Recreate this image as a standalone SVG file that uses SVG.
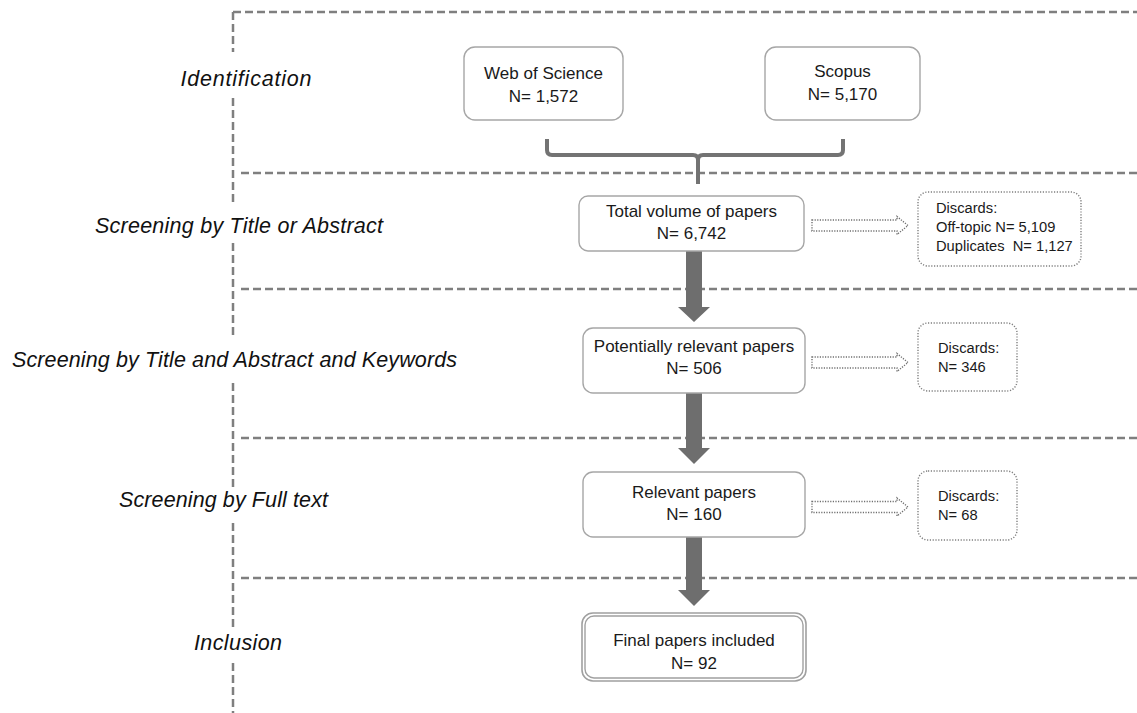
<svg xmlns="http://www.w3.org/2000/svg" width="1137" height="713" viewBox="0 0 1137 713">
<style>
.bg{fill:#ffffff}
.dash{stroke:#7f7f7f;stroke-width:2.5;stroke-dasharray:8 4;fill:none}
.box{fill:#ffffff;stroke:#a6a6a6;stroke-width:1.4}
.dbox{fill:#ffffff;stroke:#7f7f7f;stroke-width:1.4;stroke-dasharray:1.2 1.6}
.t{font-family:"Liberation Sans",Arial,sans-serif;font-size:17px;fill:#1a1a1a;text-anchor:middle}
.d{font-family:"Liberation Sans",Arial,sans-serif;font-size:14.7px;fill:#1a1a1a}
.lab{font-family:"Liberation Sans",Arial,sans-serif;font-style:italic;font-size:21.5px;fill:#111;text-anchor:middle}
.big{fill:#6e6e6e}
.hollow{fill:#ffffff;stroke:#6f6f6f;stroke-width:1.4;stroke-dasharray:1.2 1.4}
.brace{fill:none;stroke:#737373;stroke-width:4}
</style>
<rect class="bg" x="0" y="0" width="1137" height="713"/>
<g id="frame">
<line class="dash" x1="233" y1="12" x2="1137" y2="12"/>
<line class="dash" x1="233" y1="12" x2="233" y2="52"/>
<line class="dash" x1="233" y1="98" x2="233" y2="205"/>
<line class="dash" x1="233" y1="243" x2="233" y2="335"/>
<line class="dash" x1="233" y1="383" x2="233" y2="487"/>
<line class="dash" x1="233" y1="523" x2="233" y2="627"/>
<line class="dash" x1="233" y1="663" x2="233" y2="713"/>
<line class="dash" x1="241" y1="173" x2="1137" y2="173"/>
<line class="dash" x1="241" y1="289" x2="1137" y2="289"/>
<line class="dash" x1="241" y1="438" x2="1137" y2="438"/>
<line class="dash" x1="241" y1="578" x2="1137" y2="578"/>
</g>
<g id="labels">
<text class="lab" x="246" y="86" textLength="131">Identification</text>
<text class="lab" x="239" y="233" textLength="288">Screening by Title or Abstract</text>
<text class="lab" x="234.5" y="367" textLength="445">Screening by Title and Abstract and Keywords</text>
<text class="lab" x="223.5" y="507" textLength="209">Screening by Full text</text>
<text class="lab" x="238" y="650" textLength="88">Inclusion</text>
</g>
<g id="connectors">
<path class="brace" d="M547,139 V150 Q547,155 552,155 H693 Q698,155 698,160 V184 M698,160 Q698,155 703,155 H838 Q843,155 843,150 V139"/>
<polygon class="big" points="686,251 702,251 702,307 710,307 694,322 678,307 686,307"/>
<polygon class="big" points="686,393 702,393 702,448 710,448 694,464 678,448 686,448"/>
<polygon class="big" points="686,537 702,537 702,590 710,590 694,606 678,590 686,590"/>
<polygon class="hollow" points="812,220 897,220 897,216.5 908,225.5 897,234.5 897,231 812,231"/>
<polygon class="hollow" points="812,357 897,357 897,353.5 908,362.5 897,371.5 897,368 812,368"/>
<polygon class="hollow" points="812,501.5 897,501.5 897,498 908,507 897,516 897,512.5 812,512.5"/>
</g>
<g id="wos">
<rect class="box" x="464" y="47" width="159" height="73" rx="11"/>
<text class="t" x="543.5" y="79">Web of Science</text>
<text class="t" x="543.5" y="102">N= 1,572</text>
</g>
<g id="scopus">
<rect class="box" x="765" y="47" width="155" height="73" rx="11"/>
<text class="t" x="842.5" y="77">Scopus</text>
<text class="t" x="842.5" y="100">N= 5,170</text>
</g>
<g id="total">
<rect class="box" x="579" y="196" width="225" height="55" rx="9"/>
<text class="t" x="691.5" y="217">Total volume of papers</text>
<text class="t" x="691.5" y="239">N= 6,742</text>
</g>
<g id="discards1">
<rect class="dbox" x="918" y="192" width="163" height="74" rx="10"/>
<text class="d" x="936" y="213">Discards:</text>
<text class="d" x="936" y="232">Off-topic N= 5,109</text>
<text class="d" x="936" y="251">Duplicates&#160; N= 1,127</text>
</g>
<g id="potential">
<rect class="box" x="583" y="328" width="222" height="65" rx="10"/>
<text class="t" x="694" y="352">Potentially relevant papers</text>
<text class="t" x="694" y="374">N= 506</text>
</g>
<g id="discards2">
<rect class="dbox" x="918" y="323" width="99" height="68" rx="10"/>
<text class="d" x="938" y="353">Discards:</text>
<text class="d" x="938" y="372">N= 346</text>
</g>
<g id="relevant">
<rect class="box" x="583" y="472" width="222" height="65" rx="10"/>
<text class="t" x="694" y="498">Relevant papers</text>
<text class="t" x="694" y="520">N= 160</text>
</g>
<g id="discards3">
<rect class="dbox" x="918" y="471" width="99" height="69" rx="10"/>
<text class="d" x="938" y="501">Discards:</text>
<text class="d" x="938" y="520">N= 68</text>
</g>
<g id="final">
<rect x="582" y="613" width="224" height="68" rx="11" fill="#ffffff" stroke="#a0a0a0" stroke-width="1.6"/>
<rect x="585" y="616" width="218" height="62" rx="9" fill="none" stroke="#a0a0a0" stroke-width="1.4"/>
<text class="t" x="694" y="646">Final papers included</text>
<text class="t" x="694" y="669">N= 92</text>
</g>
</svg>
